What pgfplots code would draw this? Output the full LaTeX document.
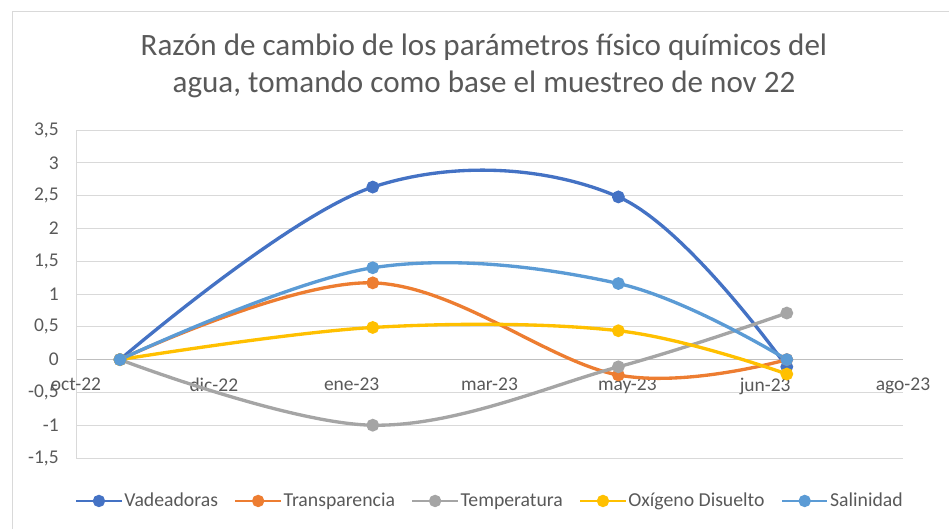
\documentclass[border=0pt]{standalone}
\usepackage{fontspec}
\setmainfont{Carlito}
\usepackage{pgfplots}
\pgfplotsset{compat=1.18}
\definecolor{cVad}{HTML}{4472C4}
\definecolor{cTra}{HTML}{ED7D31}
\definecolor{cTem}{HTML}{A5A5A5}
\definecolor{cOxi}{HTML}{FFC000}
\definecolor{cSal}{HTML}{5B9BD5}
\definecolor{cText}{HTML}{595959}
\definecolor{cGrid}{HTML}{D9D9D9}
\definecolor{cAxis}{HTML}{BFBFBF}
\begin{document}
\begin{tikzpicture}
\path[use as bounding box] (0,0) rectangle (711.75pt,396.75pt);
% chart area border (left and top)
\draw[cGrid, line width=0.75pt] (9pt,0) -- (9pt,387.75pt) -- (711.75pt,387.75pt);
% title
\node[align=center, text=cText, font=\fontsize{23.3}{27.75}\selectfont] at (363pt,347.5pt)
  {Razón de cambio de los parámetros físico químicos del\\agua, tomando como base el muestreo de nov 22};
\begin{axis}[
  at={(57pt,53.25pt)}, anchor=south west,
  scale only axis, width=620.25pt, height=246pt,
  xmin=0, xmax=6, ymin=-1.5, ymax=3.5,
  axis x line=middle, axis y line=left,
  hide obscured x ticks=false, hide obscured y ticks=false,
  x axis line style={-, draw=cAxis, line width=0.75pt},
  y axis line style={-, draw=cGrid, line width=0.75pt},
  xtick={0,1,2,3,4,5,6},
  xticklabels={oct-22,dic-22,ene-23,mar-23,may-23,jun-23,ago-23},
  ytick={-1.5,-1,-0.5,0,0.5,1,1.5,2,2.5,3,3.5},
  yticklabels={{-1,5},{-1},{-0,5},{0},{0,5},{1},{1,5},{2},{2,5},{3},{3,5}},
  ymajorgrids, grid style={cGrid, line width=0.75pt},
  major tick length=0pt,
  tick label style={text=cText, font=\fontsize{14.6}{17}\selectfont},
  xticklabel style={yshift=-10pt},
  yticklabel style={xshift=-9.5pt},
  every axis plot/.append style={line width=2.5pt, smooth, tension=0.6, mark=*, mark size=3.5pt},
  legend columns=5,
  legend style={at={(0.5,-0.131)}, anchor=center, draw=none, fill=none,
    font=\fontsize{14.8}{17}\selectfont, text=cText,
    /tikz/every even column/.append style={column sep=11pt},
    nodes={inner sep=1pt}},
  legend image code/.code={\draw[#1, line width=2.2pt, mark repeat=2, mark phase=2] plot[sharp plot] coordinates {(0pt,0pt)(17pt,0pt)(34pt,0pt)};},
]
\addplot[cVad, mark options={fill=cVad, draw=cVad}] coordinates {(0.319,0) (2.153,2.63) (3.935,2.48) (5.157,-0.11)};
\addlegendentry{Vadeadoras}
\addplot[cTra, mark options={fill=cTra, draw=cTra}] coordinates {(0.319,0) (2.153,1.17) (3.935,-0.235) (5.157,0)};
\addlegendentry{Transparencia}
\addplot[cTem, mark options={fill=cTem, draw=cTem}] coordinates {(0.319,0) (2.153,-1.0) (3.935,-0.11) (5.157,0.71)};
\addlegendentry{Temperatura}
\addplot[cOxi, mark options={fill=cOxi, draw=cOxi}] coordinates {(0.319,0) (2.153,0.49) (3.935,0.44) (5.157,-0.22)};
\addlegendentry{Oxígeno Disuelto}
\addplot[cSal, mark options={fill=cSal, draw=cSal}] coordinates {(0.319,0) (2.153,1.40) (3.935,1.16) (5.157,0)};
\addlegendentry{Salinidad}
\end{axis}
\end{tikzpicture}
\end{document}
